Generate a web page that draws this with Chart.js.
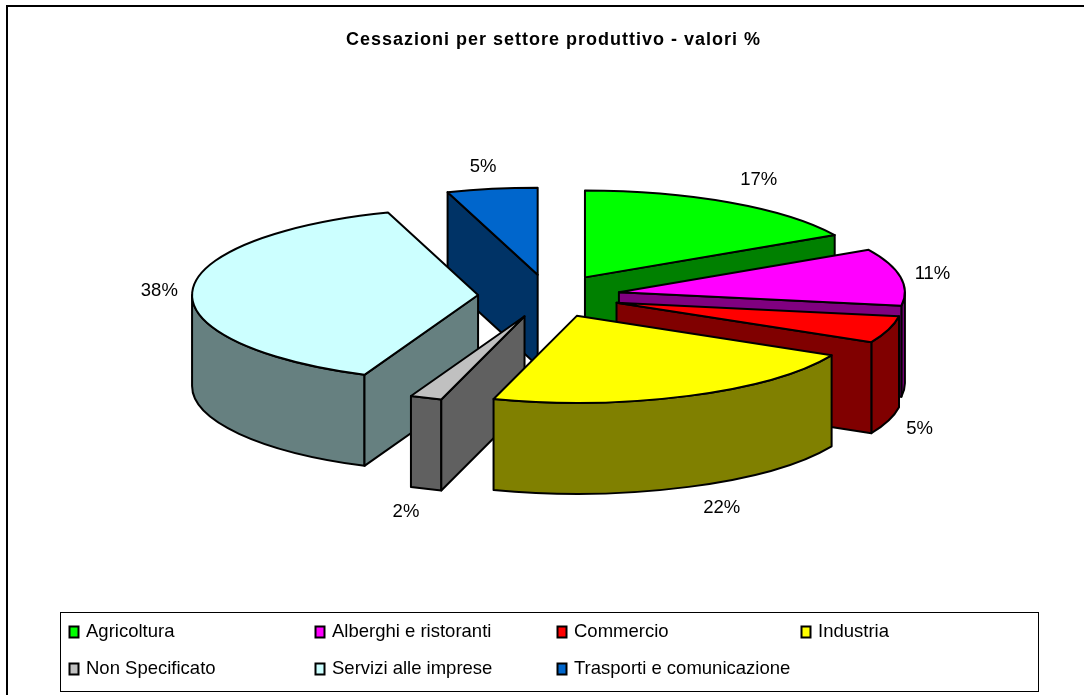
<!DOCTYPE html>
<html><head><meta charset="utf-8">
<style>html,body{margin:0;padding:0;background:#fff;overflow:hidden}#w{position:absolute;left:0;top:0;width:1084px;height:695px}</style>
<script src="https://cdn.jsdelivr.net/npm/chart.js@4"></script>
</head><body><div id="w"><canvas id="c" width="1084" height="695"></canvas></div>
<script>
const categories = ['Agricoltura','Alberghi e ristoranti','Commercio','Industria','Non Specificato','Servizi alle imprese','Trasporti e comunicazione'];
const shares = [16.9,10.6,5.0,22.2,1.8,38.4,5.1];
const topColors = ['#00ff00','#ff00ff','#ff0000','#ffff00','#c0c0c0','#ccffff','#0066cc'];
const wallColors = ['#008000','#800080','#800000','#808000','#606060','#668080','#003366'];
const titleText = 'Cessazioni per settore produttivo - valori %';
// rendering geometry
const TILT = 0.304, DEPTH = 91, EXPLODE = 71, RADIUS = 286, CY = 296;
const paintOrder = [6,0,1,2,5,4,3];
const labelNudge = [[29,-23],[32,-3],[31,8],[33,21],[-20,23],[-33,0],[-9,-22]];
const legendCols = [69,315,557,801], legendRows = [632,669];
const FONT = '"Liberation Sans", Arial, sans-serif';

function geom(arc){
  const mid=(arc.startAngle+arc.endAngle)/2;
  return {x:arc.x+Math.cos(mid)*EXPLODE, y:CY+Math.sin(mid)*EXPLODE*TILT, a:arc.startAngle, b:arc.endAngle, r:arc.outerRadius, mid};
}
function rimY(g,t){return g.y+Math.sin(t)*g.r*TILT}
function rimX(g,t){return g.x+Math.cos(t)*g.r}
function quadWall(ctx,g,t,color){
  ctx.beginPath();
  ctx.moveTo(g.x,g.y);ctx.lineTo(rimX(g,t),rimY(g,t));
  ctx.lineTo(rimX(g,t),rimY(g,t)+DEPTH);ctx.lineTo(g.x,g.y+DEPTH);ctx.closePath();
  ctx.fillStyle=color;ctx.fill();ctx.stroke();
}
function outerWall(ctx,g,color){
  const T=Math.PI*2;
  for(const k of [-1,0,1]){
    const lo=Math.max(g.a,k*T), hi=Math.min(g.b,k*T+Math.PI);
    if(hi<=lo) continue;
    ctx.beginPath();
    ctx.ellipse(g.x,g.y,g.r,g.r*TILT,0,lo,hi);
    ctx.ellipse(g.x,g.y+DEPTH,g.r,g.r*TILT,0,hi,lo,true);
    ctx.closePath();
    ctx.fillStyle=color;ctx.fill();ctx.stroke();
  }
}
const pie3d = {
  id:'pie3d',
  beforeDatasetDraw(chart){
    const ctx=chart.ctx, arcs=chart.getDatasetMeta(0).data;
    ctx.save();ctx.lineJoin='round';ctx.lineWidth=2;ctx.strokeStyle='#000';
    paintOrder.forEach(i=>{
      const arc=arcs[i], g=geom(arc);
      outerWall(ctx,g,wallColors[i]);
      if(Math.cos(g.a)<-1e-6) quadWall(ctx,g,g.a,wallColors[i]);
      if(Math.cos(g.b)>1e-6) quadWall(ctx,g,g.b,wallColors[i]);
      ctx.save();
      ctx.translate(g.x-arc.x,g.y);ctx.scale(1,TILT);ctx.translate(0,-arc.y);
      arc.draw(ctx);
      ctx.restore();
      ctx.beginPath();ctx.moveTo(g.x,g.y);
      ctx.ellipse(g.x,g.y,g.r,g.r*TILT,0,g.a,g.b);ctx.closePath();ctx.stroke();
    });
    ctx.restore();
    return false;
  },
  afterDraw(chart){
    const ctx=chart.ctx, arcs=chart.getDatasetMeta(0).data;
    ctx.save();
    ctx.strokeStyle='#000';ctx.lineWidth=2;
    ctx.beginPath();ctx.moveTo(1090,6);ctx.lineTo(7,6);ctx.lineTo(7,700);ctx.stroke();
    ctx.lineWidth=1;
    ctx.fillStyle='#000';ctx.textAlign='center';ctx.textBaseline='middle';
    ctx.font='bold 18px '+FONT;ctx.letterSpacing='1px';ctx.fillText(titleText,553.5,40);ctx.letterSpacing='0px';
    ctx.font='18.5px '+FONT;
    arcs.forEach((arc,i)=>{
      const g=geom(arc),t=g.mid,front=Math.sin(t)>0.2?DEPTH:0;
      ctx.fillText(Math.round(shares[i])+'%',rimX(g,t)+labelNudge[i][0],rimY(g,t)+front+labelNudge[i][1]);
    });
    ctx.strokeRect(60.5,612.5,978,79);
    ctx.textAlign='left';
    categories.forEach((n,i)=>{
      const x=legendCols[i%4],y=legendRows[i<4?0:1];
      ctx.fillStyle=topColors[i];ctx.fillRect(x+.5,y-5.5,9,11);
      ctx.lineWidth=2;ctx.strokeRect(x+.5,y-5.5,9,11);
      ctx.fillStyle='#000';ctx.fillText(n,x+17,y);
    });
    ctx.restore();
  }
};
new Chart(document.getElementById('c'),{
  type:'pie',
  data:{labels:categories,datasets:[{data:shares,backgroundColor:topColors,borderWidth:0,offset:0}]},
  options:{responsive:false,animation:false,
    layout:{padding:{left:14}},
    plugins:{legend:{display:false},title:{display:false},tooltip:{enabled:false}},
    radius:RADIUS},
  plugins:[pie3d]
});
</script></body></html>
